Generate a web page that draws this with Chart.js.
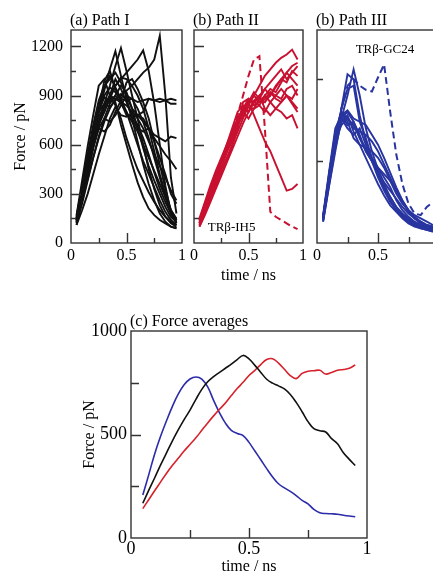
<!DOCTYPE html>
<html>
<head>
<meta charset="utf-8">
<script src="https://cdn.jsdelivr.net/npm/chart.js"></script>
<style>
html, body { margin: 0; padding: 0; background: #fff; overflow: hidden; }
#page { position: relative; width: 433px; height: 573px; overflow: hidden; }
canvas { position: absolute; }
</style>
</head>
<body>
<div id="page">
  <canvas id="pathI" width="190" height="290" style="left:0;top:0"></canvas>
  <canvas id="pathII" width="124" height="290" style="left:186px;top:0"></canvas>
  <canvas id="pathIII" width="140" height="290" style="left:309px;top:0"></canvas>
  <canvas id="avg" width="320" height="280" style="left:60px;top:300px"></canvas>
</div>
<script>
// time axis of the single runs (ns)
var time = [0.05, 0.10, 0.15, 0.20, 0.25, 0.30, 0.35, 0.40, 0.45, 0.50,
            0.55, 0.60, 0.65, 0.70, 0.75, 0.80, 0.85, 0.90, 0.95];

// (a) Path I, force in pN
var pathI = [
  [140, 310, 470, 640, 800, 930, 1060, 1170, 1020, 880, 760, 620, 480, 360, 260, 180, 130, 100, 90],
  [120, 260, 420, 580, 720, 850, 960, 1080, 1190, 1050, 900, 760, 600, 450, 330, 230, 160, 120, 100],
  [150, 300, 450, 600, 730, 830, 900, 960, 1000, 1040, 1080, 1120, 1175, 1050, 850, 600, 350, 180, 120],
  [130, 260, 390, 520, 640, 740, 820, 880, 900, 930, 960, 1000, 1040, 1070, 1120, 1265, 900, 400, 180],
  [160, 340, 520, 690, 820, 900, 950, 920, 880, 870, 880, 860, 870, 880, 870, 880, 870, 880, 870],
  [110, 280, 460, 640, 820, 990, 1050, 940, 860, 780, 770, 780, 760, 700, 640, 590, 540, 500, 450],
  [170, 380, 590, 780, 960, 1000, 900, 840, 760, 640, 540, 450, 380, 310, 250, 200, 160, 130, 110],
  [140, 300, 480, 660, 800, 890, 860, 900, 960, 920, 820, 700, 580, 470, 380, 300, 220, 160, 130],
  [130, 270, 430, 580, 700, 680, 720, 800, 870, 980, 1000, 940, 860, 760, 620, 480, 330, 200, 140],
  [150, 320, 500, 660, 770, 840, 880, 860, 720, 600, 480, 370, 280, 210, 170, 140, 120, 100, 90],
  [130, 290, 450, 600, 720, 800, 880, 960, 1010, 1000, 960, 900, 820, 700, 560, 420, 300, 200, 150],
  [160, 350, 540, 720, 870, 960, 1000, 1040, 980, 900, 820, 780, 740, 700, 620, 520, 420, 300, 240],
  [110, 200, 300, 420, 540, 650, 760, 830, 780, 770, 790, 780, 800, 880, 870, 860, 870, 850, 850],
  [150, 330, 510, 680, 830, 950, 1020, 950, 880, 800, 700, 600, 500, 420, 340, 260, 190, 140, 110],
  [140, 320, 500, 670, 800, 850, 830, 870, 910, 870, 760, 700, 680, 700, 660, 640, 620, 650, 640],
  [120, 240, 380, 520, 650, 760, 850, 900, 850, 800, 740, 680, 600, 520, 440, 360, 280, 200, 140],
  [150, 310, 470, 620, 740, 800, 900, 1000, 940, 860, 780, 720, 640, 540, 430, 330, 250, 180, 130],
  [130, 280, 440, 590, 700, 760, 740, 780, 840, 900, 880, 820, 740, 640, 520, 400, 280, 190, 120],
  [140, 300, 460, 610, 740, 840, 900, 880, 860, 840, 800, 760, 700, 620, 540, 470, 400, 320, 260]
];

// (b) Path II
var pathII = [
  [110, 190, 280, 360, 440, 520, 600, 680, 760, 840, 900, 960, 1020, 1060, 1100, 1130, 1150, 1180, 1120],
  [130, 220, 320, 410, 500, 580, 660, 750, 820, 860, 780, 700, 620, 560, 480, 400, 320, 330, 360],
  [100, 180, 260, 340, 420, 500, 590, 700, 820, 880, 860, 900, 940, 900, 960, 1000, 980, 1050, 1020],
  [140, 240, 330, 420, 500, 600, 700, 800, 840, 800, 860, 880, 860, 920, 900, 880, 940, 960, 900],
  [120, 200, 290, 380, 470, 560, 650, 720, 780, 830, 820, 840, 900, 860, 820, 860, 900, 850, 800],
  [150, 250, 350, 440, 520, 600, 680, 760, 820, 800, 870, 900, 820, 780, 820, 800, 760, 780, 700],
  [110, 200, 300, 390, 480, 570, 640, 720, 790, 860, 920, 880, 860, 900, 950, 1000, 1040, 1080, 1100],
  [130, 210, 300, 400, 490, 560, 620, 700, 860, 880, 840, 860, 880, 920, 880, 860, 900, 880, 940],
  [100, 170, 250, 330, 410, 490, 570, 650, 730, 800, 860, 840, 800, 860, 900, 940, 900, 860, 820],
  [120, 200, 290, 370, 460, 550, 630, 720, 800, 760, 820, 880, 940, 980, 1020, 1060, 1000, 1040, 1080],
  [140, 230, 320, 410, 490, 570, 660, 740, 800, 860, 900, 860, 900, 940, 920, 980, 1040, 1000, 960]
];
var pathIIdash = [120, 210, 300, 390, 480, 580, 680, 780, 900, 1020, 1120, 1140, 700, 190, 160, 140, 120, 100, 85];

// (b) Path III
var pathIII = [
  [150, 380, 600, 820, 1030, 1000, 780, 620, 500, 400, 320, 250, 200, 160, 130, 110, 90, 80, 70],
  [130, 350, 560, 760, 900, 1060, 900, 700, 560, 450, 360, 280, 220, 170, 140, 120, 100, 90, 80],
  [160, 400, 620, 820, 940, 960, 740, 640, 520, 420, 330, 260, 200, 160, 130, 110, 100, 90, 80],
  [150, 420, 680, 800, 760, 700, 680, 660, 620, 560, 480, 400, 320, 250, 190, 150, 120, 100, 90],
  [170, 440, 700, 780, 720, 740, 660, 560, 500, 420, 340, 280, 220, 180, 150, 120, 100, 100, 90],
  [140, 380, 620, 780, 810, 760, 740, 720, 660, 600, 520, 430, 340, 260, 200, 160, 130, 110, 100],
  [160, 410, 650, 760, 700, 660, 700, 600, 520, 460, 400, 340, 260, 200, 160, 130, 110, 100, 90],
  [130, 360, 580, 740, 780, 680, 600, 520, 440, 360, 290, 230, 190, 150, 120, 100, 90, 80, 70],
  [150, 400, 640, 800, 740, 640, 600, 580, 560, 520, 460, 380, 300, 240, 200, 170, 150, 130, 110],
  [140, 390, 630, 720, 760, 720, 640, 580, 500, 440, 370, 320, 270, 220, 180, 150, 130, 110, 100],
  [160, 430, 660, 760, 800, 740, 640, 560, 500, 460, 420, 380, 320, 260, 200, 150, 120, 100, 90]
];
var pathIIIdash = [150, 400, 640, 820, 960, 1000, 960, 935, 925, 1010, 1090, 800, 540, 360, 240, 180, 170, 220, 250];

// (c) Force averages
var avgTime = [0.050, 0.075, 0.100, 0.125, 0.150, 0.175, 0.200, 0.225, 0.250, 0.275,
               0.300, 0.325, 0.350, 0.375, 0.400, 0.425, 0.450, 0.475, 0.500, 0.525,
               0.550, 0.575, 0.600, 0.625, 0.650, 0.675, 0.700, 0.725, 0.750, 0.775,
               0.800, 0.825, 0.850, 0.875, 0.900, 0.925, 0.950];
var avgI = [168, 230, 290, 352, 410, 468, 522, 572, 618, 670, 718, 755, 780, 800, 820, 840, 862, 882, 865, 834,
            800, 767, 748, 735, 720, 693, 655, 610, 562, 528, 518, 512, 480, 455, 412, 380, 350];
var avgII = [142, 185, 228, 270, 312, 350, 385, 420, 452, 484, 520, 556, 590, 622, 652, 688, 722, 752, 785, 810,
             838, 862, 866, 845, 815, 785, 770, 795, 806, 808, 810, 792, 800, 810, 814, 820, 836];
var avgIII = [208, 305, 405, 490, 565, 635, 695, 740, 768, 778, 768, 730, 665, 605, 555, 520, 505, 495, 462, 420,
              378, 335, 295, 262, 242, 225, 205, 182, 165, 138, 122, 118, 117, 115, 110, 106, 103];

// ticks
var runXTicks = [0, 0.25, 0.5, 0.75, 1];
var runXLabels = [0, 0.5, 1];
var runYTicks = [0, 150, 300, 450, 600, 750, 900, 1050, 1200];
var runYLabels = [0, 300, 600, 900, 1200];
var pathIIIYTicks = [500, 1000];
var avgYTicks = [0, 250, 500, 750, 1000];
var avgYLabels = [0, 500, 1000];

var BLACK = '#111111';
var RED = 'rgb(200, 16, 48)';
var BLUE = 'rgb(40, 52, 160)';
var SERIF = '"Liberation Serif", "DejaVu Serif", serif';

function pts(xs, ys) {
    return ys.map(function (v, i) { return { x: xs[i], y: v }; });
}

function runSets(curves, dash, color) {
    var sets = curves.map(function (c) {
        return { data: pts(time, c), borderColor: color, borderWidth: 1.9 };
    });
    if (dash) {
        sets.push({ data: pts(time, dash), borderColor: color, borderWidth: 2, borderDash: [7, 4] });
    }
    return sets;
}

// box, inward tick marks, panel title, small note
function frame(cfg) {
    return {
        id: 'frame',
        afterDraw: function (chart) {
            var ctx = chart.ctx, a = chart.chartArea;
            var xs = chart.scales.x, ys = chart.scales.y;
            ctx.save();
            ctx.strokeStyle = '#333';
            ctx.lineWidth = 1.4;
            ctx.strokeRect(a.left, a.top, a.right - a.left, a.bottom - a.top);
            ctx.beginPath();
            xs.ticks.forEach(function (t) {
                if (t.value <= xs.min || t.value >= xs.max) return;
                var px = Math.round(xs.getPixelForValue(t.value)) + 0.5;
                var len = cfg.xLabels.indexOf(t.value) >= 0 ? cfg.major : cfg.minor;
                ctx.moveTo(px, a.bottom);
                ctx.lineTo(px, a.bottom - len);
            });
            ys.ticks.forEach(function (t) {
                if (t.value <= ys.min || t.value >= ys.max) return;
                var py = Math.round(ys.getPixelForValue(t.value)) + 0.5;
                var len = cfg.yMajor.indexOf(t.value) >= 0 ? cfg.major : cfg.minor;
                ctx.moveTo(a.left, py);
                ctx.lineTo(a.left + len, py);
            });
            ctx.stroke();
            ctx.fillStyle = '#000';
            ctx.textAlign = 'left';
            ctx.textBaseline = 'alphabetic';
            ctx.font = '16px ' + SERIF;
            ctx.fillText(cfg.title, a.left - 1, a.top - 5);
            if (cfg.note) {
                ctx.font = '13px ' + SERIF;
                ctx.textAlign = 'center';
                ctx.fillText(cfg.note.text, xs.getPixelForValue(cfg.note.x), ys.getPixelForValue(cfg.note.y));
            }
            ctx.restore();
        }
    };
}

function panel(id, cfg) {
    var font = { family: SERIF, size: cfg.tickSize };
    return new Chart(document.getElementById(id), {
        type: 'line',
        data: { datasets: cfg.datasets },
        options: {
            responsive: false,
            animation: false,
            events: [],
            layout: { autoPadding: false, padding: { left: 0, top: cfg.top, right: cfg.right, bottom: 0 } },
            plugins: { legend: { display: false }, tooltip: { enabled: false }, title: { display: false } },
            elements: { point: { radius: 0 }, line: { tension: cfg.tension, fill: false } },
            scales: {
                x: {
                    type: 'linear', min: 0, max: 1,
                    grid: { display: false, drawTicks: false }, border: { display: false },
                    afterFit: function (s) { s.height = cfg.xHeight; },
                    afterBuildTicks: function (s) { s.ticks = cfg.xTicks.map(function (v) { return { value: v }; }); },
                    ticks: {
                        autoSkip: false, maxRotation: 0, padding: cfg.xPad, color: '#000', font: font,
                        callback: function (v) { return cfg.xLabels.indexOf(v) >= 0 ? String(v) : ''; }
                    },
                    title: cfg.xTitle ? {
                        display: true, text: 'time / ns', color: '#000',
                        font: { family: SERIF, size: 16 }, padding: { top: 0, bottom: cfg.xTitlePad }
                    } : { display: false }
                },
                y: {
                    type: 'linear', min: 0, max: cfg.yMax,
                    grid: { display: false, drawTicks: false }, border: { display: false },
                    afterFit: function (s) { s.width = cfg.yWidth; },
                    afterBuildTicks: function (s) { s.ticks = cfg.yTicks.map(function (v) { return { value: v }; }); },
                    ticks: {
                        display: cfg.yLabels.length > 0, padding: cfg.yPad, color: '#000', font: font,
                        callback: function (v) { return cfg.yLabels.indexOf(v) >= 0 ? String(v) : ''; }
                    },
                    title: cfg.yTitle ? {
                        display: true, text: 'Force / pN', color: '#000',
                        font: { family: SERIF, size: 16 }, padding: { top: cfg.yTitlePad, bottom: 0 }
                    } : { display: false }
                }
            }
        },
        plugins: [frame(cfg)]
    });
}

panel('pathI', {
    datasets: runSets(pathI, null, BLACK), tension: 0,
    top: 30, right: 8, xHeight: 47, yWidth: 71, yMax: 1300,
    xTicks: runXTicks, xLabels: runXLabels, yTicks: runYTicks, yLabels: runYLabels, yMajor: runYLabels,
    tickSize: 16, xPad: 3, yPad: 8, yTitle: true, yTitlePad: 11,
    major: 10, minor: 5, title: '(a) Path I'
});

panel('pathII', {
    datasets: runSets(pathII, pathIIdash, RED), tension: 0,
    top: 30, right: 6, xHeight: 47, yWidth: 8, yMax: 1300,
    xTicks: runXTicks, xLabels: runXLabels, yTicks: runYTicks, yLabels: [], yMajor: runYLabels,
    tickSize: 16, xPad: 3, yPad: 8, xTitle: true, xTitlePad: 5,
    major: 10, minor: 5, title: '(b) Path II',
    note: { text: 'TR\u03b2-IH5', x: 0.345, y: 75 }
});

panel('pathIII', {
    datasets: runSets(pathIII, pathIIIdash, BLUE), tension: 0,
    top: 30, right: 10, xHeight: 47, yWidth: 8, yMax: 1300,
    xTicks: runXTicks, xLabels: runXLabels, yTicks: pathIIIYTicks, yLabels: [], yMajor: [],
    tickSize: 16, xPad: 3, yPad: 8,
    major: 10, minor: 6, title: '(b) Path III',
    note: { text: 'TR\u03b2-GC24', x: 0.557, y: 1160 }
});

panel('avg', {
    datasets: [
        { data: pts(avgTime, avgI), borderColor: BLACK, borderWidth: 1.6 },
        { data: pts(avgTime, avgII), borderColor: 'rgb(214, 34, 44)', borderWidth: 1.6 },
        { data: pts(avgTime, avgIII), borderColor: 'rgb(44, 44, 170)', borderWidth: 1.6 }
    ],
    tension: 0.4,
    top: 31, right: 13, xHeight: 42, yWidth: 71, yMax: 1000,
    xTicks: runXTicks, xLabels: runXLabels, yTicks: avgYTicks, yLabels: avgYLabels, yMajor: avgYLabels,
    tickSize: 18, xPad: 0, yPad: 4, xTitle: true, xTitlePad: 4, yTitle: true, yTitlePad: 20,
    major: 10, minor: 8, title: '(c) Force averages'
});
</script>
</body>
</html>
